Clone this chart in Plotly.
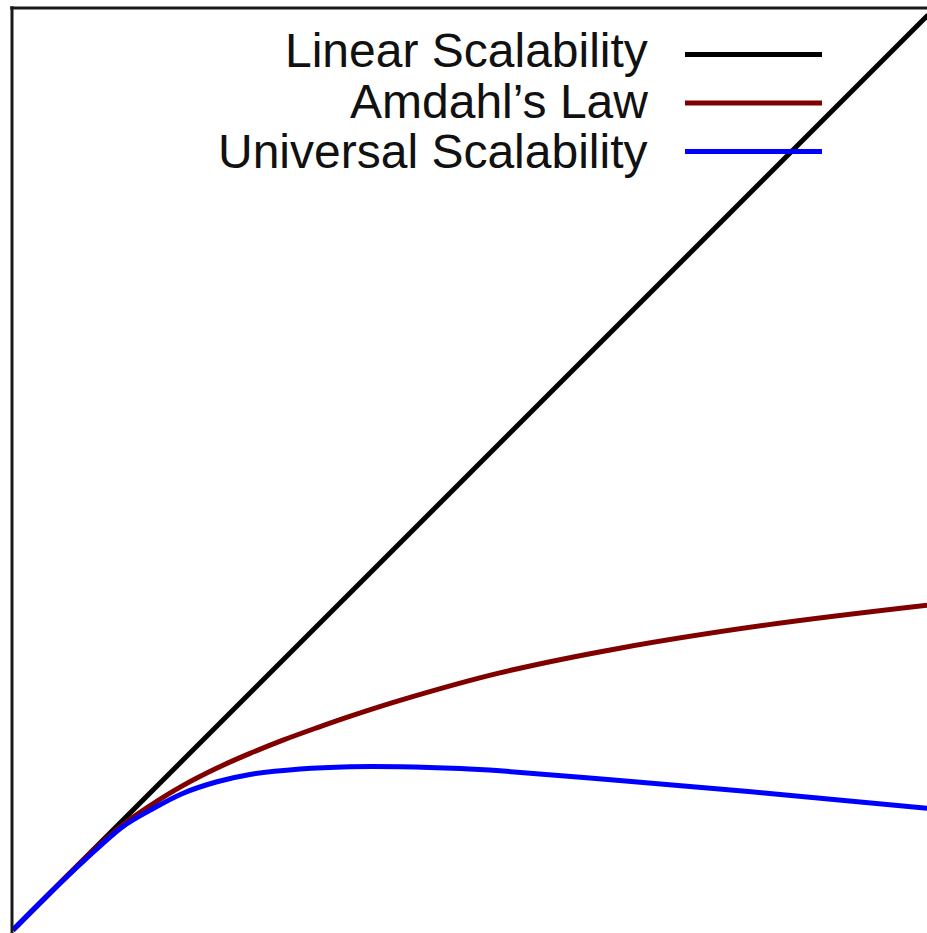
import plotly.graph_objects as go

# ---- data (arbitrary units: processors N vs. capacity C) ----
series_names = ["Linear Scalability", "Amdahl's Law", "Universal Scalability"]

linear_x = [0, 100]
linear_y = [0, 100]

amdahl_x = [0, 4, 8, 12.0, 15.0, 18.6, 22.3, 25.9, 29.5, 33.2, 36.8, 42.3, 53.2, 66.3, 82.4, 99.9]
amdahl_y = [0, 4, 7.95, 11.5, 13.6, 15.8, 17.7, 19.3, 20.75, 22.1, 23.35, 25.1, 28.1, 30.8, 33.35, 35.5]

usl_x = [0, 4, 8, 12.0, 15.0, 18.6, 22.3, 25.9, 31.4, 36.8, 42.3, 48.9, 53.2, 66.3, 82.4, 99.9]
usl_y = [0, 4, 7.8, 11.3, 13.1, 14.95, 16.2, 17.0, 17.6, 17.85, 17.85, 17.65, 17.4, 16.35, 14.95, 13.3]

colors = ["#000000", "#800000", "#0000ff"]

W, H = 927, 933
ML, MR, MT, MB = 12, 0, 8, 1
PW, PH = W - ML - MR, H - MT - MB


def px_to_paper_x(px):
    return (px - ML) / PW


def px_to_paper_y(py):
    return (H - MB - py) / PH


fig = go.Figure()
for name, xs, ys, c in zip(series_names,
                           [linear_x, amdahl_x, usl_x],
                           [linear_y, amdahl_y, usl_y],
                           colors):
    fig.add_trace(go.Scatter(x=xs, y=ys, mode="lines", name=name,
                             line=dict(color=c, width=5, shape="spline", smoothing=1.0),
                             showlegend=False, hoverinfo="skip"))

# legend (text on the left, sample line on the right, gnuplot style)
text_baselines = [67.5, 118, 168]
sample_y = [54.5, 103, 151.5]
font_size = 48
shapes = []
annotations = []
for name, c, base, sy in zip(series_names, colors, text_baselines, sample_y):
    annotations.append(dict(
        x=px_to_paper_x(650), y=px_to_paper_y(base - 0.35 * font_size),
        xref="paper", yref="paper", xanchor="right", yanchor="middle",
        text=name.replace("'", "’"), showarrow=False,
        font=dict(family="Liberation Sans, Arial, sans-serif", size=font_size, color="#111111")))
    shapes.append(dict(type="line", xref="paper", yref="paper",
                       x0=px_to_paper_x(685), x1=px_to_paper_x(822),
                       y0=px_to_paper_y(sy), y1=px_to_paper_y(sy),
                       line=dict(color=c, width=5)))

# frame (left, top and a barely visible bottom edge)
border = dict(color="#1a1a1a", width=3)
shapes.append(dict(type="line", xref="paper", yref="paper", x0=0, x1=0, y0=-0.01, y1=1.002, line=border))
shapes.append(dict(type="line", xref="paper", yref="paper", x0=-0.002, x1=1.01, y0=1, y1=1, line=border))
shapes.append(dict(type="line", xref="paper", yref="paper", x0=0, x1=1.01,
                   y0=px_to_paper_y(934.5), y1=px_to_paper_y(934.5), line=border))

fig.update_layout(
    width=W, height=H,
    margin=dict(l=ML, r=MR, t=MT, b=MB, pad=0),
    paper_bgcolor="white", plot_bgcolor="white",
    xaxis=dict(range=[-0.109, 99.89], visible=False, showgrid=False, zeroline=False),
    yaxis=dict(range=[-0.219, 100.77], visible=False, showgrid=False, zeroline=False),
    shapes=shapes, annotations=annotations,
)

fig.write_html(
    "out.html",
    config={"displayModeBar": False},
    post_script="document.body.style.margin='0';document.body.style.padding='0';"
                "document.documentElement.style.overflow='hidden';",
)
